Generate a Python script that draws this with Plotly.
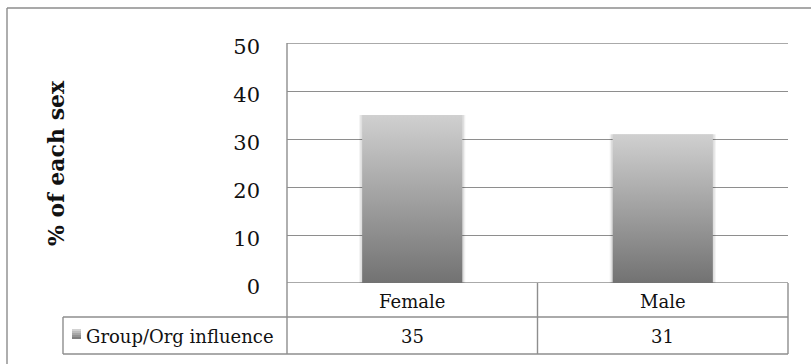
import plotly.graph_objects as go

# Data
categories = ["Female", "Male"]
series_name = "Group/Org influence"
values = [35, 31]
y_ticks = [0, 10, 20, 30, 40, 50]
Y_MAX = 50

# Canvas and plot-area geometry (pixels)
W, H = 811, 364
L, R, T, B = 287, 23, 43, 81
PW, PH = W - L - R, H - T - B
ROW1, ROW2 = 34, 37          # data-table row heights
KEY_COL = 224                # width of the legend column of the table
XMIN, XMAX = -0.5, len(categories) - 0.5
BAR_HALF = 0.2

FONT = "DejaVu Serif"
LINE = "#8e8e8e"


def px_x(px):
    return (px - L) / PW


def px_y(py):
    return (H - B - py) / PH


def data_x(x):
    return (x - XMIN) / (XMAX - XMIN)


fig = go.Figure()

# Bars: soft shadow, then a vertical gradient fill
for i, v in enumerate(values):
    x0, x1 = i - BAR_HALF, i + BAR_HALF
    for k, a in ((0.012, 0.05), (0.007, 0.08)):
        fig.add_trace(go.Scatter(
            x=[x0 - k, x1 + k, x1 + k, x0 - k, x0 - k],
            y=[0, 0, v, v, 0],
            fill="toself", fillcolor=f"rgba(0,0,0,{a})",
            mode="lines", line=dict(width=0),
            hoverinfo="skip", showlegend=False,
        ))
    fig.add_trace(go.Scatter(
        x=[x0, x1, x1, x0, x0],
        y=[0, 0, v, v, 0],
        fill="toself",
        fillgradient=dict(type="vertical",
                          colorscale=[[0, "#727272"], [1, "#d0d0d0"]]),
        mode="lines", line=dict(width=0),
        name=series_name, showlegend=False,
    ))

shapes = []


def hline(px0, px1, py, color=LINE, width=1.4):
    shapes.append(dict(type="line", xref="paper", yref="paper",
                       x0=px_x(px0), x1=px_x(px1), y0=px_y(py), y1=px_y(py),
                       line=dict(color=color, width=width)))


def vline(px, py0, py1, color=LINE, width=1.4):
    shapes.append(dict(type="line", xref="paper", yref="paper",
                       x0=px_x(px), x1=px_x(px), y0=px_y(py0), y1=px_y(py1),
                       line=dict(color=color, width=width)))


# Chart outer frame
hline(7, W + 10, 8, color="#8c8c8c")
vline(7, 8, H + 10, color="#8c8c8c")

# Gridlines at the two ends of the value range (plot edges)
for yv in (y_ticks[0], Y_MAX):
    shapes.append(dict(type="line", xref="paper", yref="y", x0=0, x1=1,
                       y0=yv, y1=yv, layer="below",
                       line=dict(color=LINE, width=1.4)))

# Value axis line continuing down through the data table
base = H - B
vline(L, T, base + ROW1 + ROW2)

# Data table grid
row_mid = base + ROW1
row_bot = base + ROW1 + ROW2
hline(L - KEY_COL, W - R, row_mid)
hline(L - KEY_COL, W - R, row_bot)
vline(L - KEY_COL, row_mid, row_bot)
for j in range(1, len(categories) + 1):
    xp = L + data_x(j - 0.5) * PW
    vline(xp, base, row_bot)

# Legend key swatch (stepped grey gradient)
key_x0, key_x1 = L - KEY_COL + 9, L - KEY_COL + 18
key_y0 = row_mid + 12
steps = ["#d2d2d2", "#bdbdbd", "#a8a8a8", "#949494", "#808080"]
for s, c in enumerate(steps):
    shapes.append(dict(type="rect", xref="paper", yref="paper",
                       x0=px_x(key_x0), x1=px_x(key_x1),
                       y0=px_y(key_y0 + 2 * s), y1=px_y(key_y0 + 2 * s + 2),
                       fillcolor=c, line=dict(width=0)))

annotations = []
txt_font = dict(family=FONT, size=18, color="#111")
# Category row and value row of the data table
for i, (cat, v) in enumerate(zip(categories, values)):
    annotations.append(dict(x=i, xref="x", y=px_y(base + ROW1 / 2 + 1),
                            yref="paper", xanchor="center", yanchor="middle",
                            text=cat, showarrow=False, font=txt_font))
    annotations.append(dict(x=i, xref="x", y=px_y(row_mid + ROW2 / 2 + 1),
                            yref="paper", xanchor="center", yanchor="middle",
                            text=str(v), showarrow=False, font=txt_font))
# Series name in the legend column
annotations.append(dict(x=px_x(key_x1 + 3), xref="paper", xanchor="left",
                        y=px_y(row_mid + ROW2 / 2 + 1), yref="paper",
                        yanchor="middle", text=series_name, showarrow=False,
                        font=txt_font))
# Value axis title
annotations.append(dict(x=px_x(56), xref="paper", xanchor="center",
                        y=0.5, yref="paper", yanchor="middle",
                        text="<b>% of each sex</b>", textangle=-90,
                        showarrow=False,
                        font=dict(family=FONT, size=22, color="#111")))

fig.update_layout(
    width=W, height=H,
    margin=dict(l=L, r=R, t=T, b=B, pad=0),
    paper_bgcolor="white", plot_bgcolor="white",
    showlegend=False,
    shapes=shapes, annotations=annotations,
    xaxis=dict(range=[XMIN, XMAX], showgrid=False, zeroline=False,
               showticklabels=False, showline=False, fixedrange=True),
    yaxis=dict(range=[0, Y_MAX], tickvals=y_ticks,
               ticktext=[str(t) for t in y_ticks],
               showgrid=True, gridcolor=LINE, gridwidth=1.4,
               zeroline=False, showline=False, ticks="",
               ticklabelstandoff=26, ticklabelshift=4,
               tickfont=dict(family=FONT, size=21, color="#111"),
               fixedrange=True),
)

fig.write_html("out.html")
